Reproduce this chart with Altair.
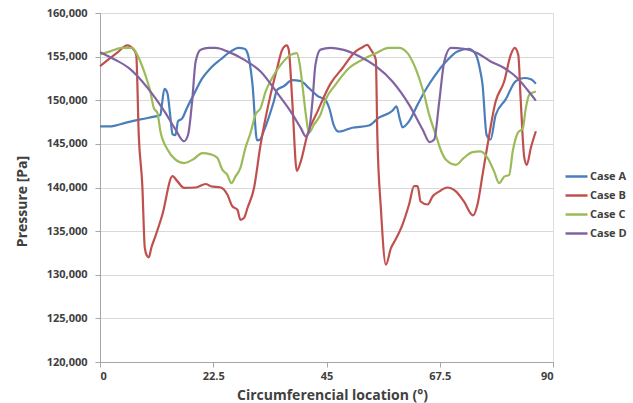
import altair as alt
import pandas as pd

series_names = ["Case A", "Case B", "Case C", "Case D"]
series_colors = ["#4A7EBB", "#C0504D", "#9BBB59", "#8064A2"]

a_x = [0, 2, 3, 5, 8, 11, 12, 12.3, 12.8, 13.4, 14.0, 14.4, 15.0, 15.5, 16.3, 17.3, 18.5, 20.3, 22, 24, 26, 27.5, 28.7, 29.3, 30.3, 31.2, 31.8, 32.5, 34.5, 35.2, 36.5, 38.2, 39.9, 41.5, 43.2, 44.8, 45.6, 46.4, 47.4, 50.1, 53.4, 55.4, 58.1, 58.9, 59.5, 60.1, 61.3, 63.1, 64.7, 66.5, 68.7, 71, 73.3, 74.7, 75.5, 76, 76.8, 77.6, 78.6, 80.6, 82.6, 84.3, 85.6, 86.6]
a_y = [147000, 147000, 147100, 147400, 147800, 148150, 148300, 149500, 151300, 150800, 148000, 146100, 146000, 147600, 147900, 149150, 150500, 152500, 153700, 154700, 155600, 156000, 155900, 155400, 151800, 145400, 145500, 146400, 149800, 151200, 151600, 152300, 152200, 151400, 150500, 150000, 149000, 147200, 146400, 146850, 147100, 148000, 148800, 149300, 148000, 146900, 147500, 149500, 151200, 152800, 154400, 155600, 155900, 155200, 153500, 151800, 146050, 145500, 148300, 150100, 152200, 152550, 152400, 151900]

b_x = [0, 1.5, 3.5, 5.4, 6.7, 7.2, 7.7, 8.4, 8.9, 9.3, 9.7, 10.2, 11, 12.4, 14.4, 15.4, 16.7, 19, 21, 22, 24, 25.3, 26.3, 27.3, 27.9, 28.6, 29.3, 30.6, 31.9, 33.6, 35.2, 36.2, 37.1, 37.5, 38.2, 39.1, 39.9, 41.2, 43.2, 45.8, 48.2, 50.8, 52.1, 53.1, 53.8, 54.8, 55.1, 55.8, 56.8, 57.8, 58.7, 60.1, 61.4, 62.4, 63.1, 63.7, 65.1, 66.1, 67.4, 69, 70.7, 72.3, 74.1, 75, 76, 77, 78.6, 80.3, 81.6, 82.4, 83.1, 83.6, 84.3, 84.8, 85.6, 86.6]
b_y = [153900, 154600, 155500, 156300, 155800, 155200, 146000, 140300, 133100, 132200, 132000, 133100, 134400, 136900, 141300, 140700, 139950, 140000, 140400, 140150, 140000, 139200, 137850, 137450, 136300, 136500, 137650, 139950, 144900, 149900, 153700, 155800, 156300, 155800, 149900, 141900, 143000, 146050, 148700, 151900, 153700, 155600, 156050, 156350, 155800, 154650, 146000, 137650, 131150, 133050, 134000, 135750, 138050, 140150, 140150, 138400, 138050, 139000, 139550, 140000, 139550, 138400, 136800, 138050, 141450, 144900, 149850, 152150, 155200, 156000, 155200, 149850, 143400, 142600, 144550, 146450]

c_x = [0, 2, 4.4, 6.4, 7.4, 9, 10, 10.7, 11.4, 12, 13.4, 15, 16.7, 18.7, 20.3, 22, 23.3, 24.3, 25.3, 26.1, 26.9, 27.9, 28.9, 29.9, 30.9, 31.9, 32.9, 34.2, 35.9, 37.9, 39.1, 39.7, 40.2, 40.9, 41.5, 42.5, 43.8, 44.8, 46.8, 49.5, 52.1, 54.8, 57.4, 59.4, 61.1, 62.4, 63.4, 64.4, 65.4, 66.7, 67.7, 68.7, 70.7, 72.3, 74, 75.6, 77, 78.3, 79.3, 80.3, 81.3, 82, 83, 84, 84.6, 85.3, 86.6]
c_y = [155250, 155600, 156000, 156000, 155200, 152900, 151000, 149100, 148550, 146450, 144350, 143200, 142800, 143300, 143950, 143800, 143400, 142050, 141450, 140500, 141250, 142250, 144550, 146250, 148350, 149100, 151000, 152550, 154050, 155200, 155400, 154050, 151800, 148350, 146250, 147200, 148350, 150050, 151800, 153700, 154650, 155400, 156000, 156000, 155400, 154050, 152550, 150650, 148350, 146050, 144300, 143200, 142600, 143400, 144050, 144150, 143400, 141850, 140500, 141250, 141450, 144150, 146250, 146800, 149100, 150650, 151000]

d_x = [0, 3, 5.7, 8.4, 11, 13, 15, 16.7, 17.5, 18.3, 19, 20, 21.6, 23, 25.3, 28.6, 31.9, 35.2, 37.9, 39.9, 40.9, 41.5, 42.2, 42.8, 43.8, 45.8, 48.2, 51.5, 54.8, 58.1, 61.4, 64.1, 65.5, 66.4, 67.4, 68.4, 69.7, 72.3, 75, 77.6, 80.3, 82.9, 84.9, 86.6]
d_y = [155500, 154650, 153700, 152150, 150250, 148550, 146650, 145300, 146050, 149850, 154450, 155800, 156000, 156000, 155600, 154650, 153300, 150850, 148700, 146800, 145850, 146450, 149850, 154050, 155800, 156000, 155800, 155050, 153900, 152150, 149500, 146650, 145200, 145500, 149850, 154450, 156000, 155900, 155400, 154450, 153700, 152550, 151200, 149950]

x_ticks = [0, 22.5, 45, 67.5, 90]
y_ticks = list(range(120000, 160001, 5000))

frames = []
for name, xs, ys in zip(series_names, [a_x, b_x, c_x, d_x], [a_y, b_y, c_y, d_y]):
    frames.append(pd.DataFrame({"loc": xs, "p": ys, "series": name, "ord": range(len(xs))}))
df = pd.concat(frames, ignore_index=True)

FONT = "Open Sans"
TXT = "#404040"

chart = alt.Chart(df).mark_line(strokeWidth=2.2, interpolate="monotone").encode(
    x=alt.X("loc:Q", scale=alt.Scale(domain=[0, 90], nice=False, zero=False),
            axis=alt.Axis(values=x_ticks, format=".1~f", title="Circumferencial location (°)",
                          grid=False, domainColor="#a6a6a6", tickColor="#a6a6a6", tickSize=5,
                          labelFont=FONT, labelFontWeight="bold", labelFontSize=11, labelColor=TXT,
                          labelPadding=3, titleFont=FONT, titleFontWeight="bold", titleFontSize=14,
                          titleColor=TXT, titleX=232, titleY=33, titleBaseline="middle",
                          titleAlign="center")),
    y=alt.Y("p:Q", scale=alt.Scale(domain=[120000, 160000], nice=False, zero=False),
            axis=alt.Axis(values=y_ticks, format=",d", title="Pressure [Pa]",
                          grid=True, gridColor="#d9d9d9", gridWidth=1, domainColor="#a6a6a6",
                          tickColor="#a6a6a6", tickSize=5, labelFont=FONT, labelFontWeight="bold",
                          labelFontSize=11, labelColor=TXT, labelPadding=8, titleFont=FONT,
                          titleFontWeight="bold", titleFontSize=14, titleColor=TXT,
                          titleX=-78, titleY=188, titleBaseline="middle", titleAlign="center",
                          titleAngle=270)),
    color=alt.Color("series:N", scale=alt.Scale(domain=series_names, range=series_colors),
                    legend=alt.Legend(title=None, orient="none", legendX=464, legendY=151,
                                      symbolType="stroke", symbolSize=484, symbolStrokeWidth=2.5,
                                      labelFont=FONT, labelFontWeight="bold", labelFontSize=11,
                                      labelColor=TXT, rowPadding=1, labelOffset=1)),
    order="ord:Q",
).properties(
    width=453, height=349, autosize="none",
    padding={"left": 100, "top": 13, "right": 80, "bottom": 41},
).configure_view(stroke=None).configure(background="white")

chart.save("out.html", embed_options={"renderer": "svg", "actions": False})
